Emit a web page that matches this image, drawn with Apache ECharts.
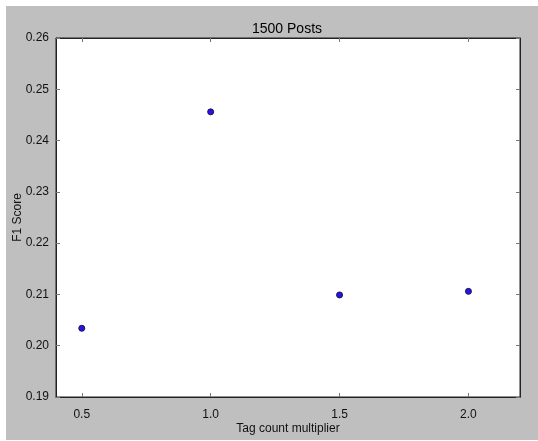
<!DOCTYPE html>
<html>
<head>
<meta charset="utf-8">
<script src="https://cdn.jsdelivr.net/npm/echarts@6/dist/echarts.min.js"></script>
<style>
  html, body { margin: 0; padding: 0; background: #fff; }
  #main { position: absolute; left: 6px; top: 6px; width: 532px; height: 434px; background: #bfbfbf; }
</style>
</head>
<body>
<div id="main"></div>
<script>
// data
var multipliers = [0.5, 1.0, 1.5, 2.0];
var f1Scores = [0.2034, 0.2456, 0.2099, 0.2106];
var xTicks = [0.5, 1.0, 1.5, 2.0];

var chart = echarts.init(document.getElementById('main'));

var axisFont = { color: '#111', fontSize: 12, fontFamily: 'Liberation Sans, Arial, sans-serif' };
var tick = { show: true, inside: true, length: 4, lineStyle: { color: '#777' } };

chart.setOption({
  backgroundColor: '#bfbfbf',
  animation: false,
  title: {
    text: '1500 Posts',
    left: 276, top: 11, textAlign: 'center',
    textStyle: { fontSize: 14, fontWeight: 'normal', color: '#000', fontFamily: 'Liberation Sans, Arial, sans-serif' }
  },
  grid: { left: 50, top: 32, right: 18, bottom: 43, backgroundColor: '#fff', show: true, borderColor: '#222', borderWidth: 1, outerBoundsMode: 'none', containLabel: false },
  xAxis: [{
    type: 'value', min: 0.4, max: 2.2,
    name: 'Tag count multiplier', nameLocation: 'middle', nameGap: 26, nameMoveOverlap: false,
    nameTextStyle: axisFont,
    axisLine: { show: true, lineStyle: { color: '#222' } },
    axisTick: Object.assign({ customValues: xTicks }, tick),
    axisLabel: Object.assign({ margin: 12, customValues: xTicks, formatter: function (v) { return v.toFixed(1); } }, axisFont),
    splitLine: { show: false }
  }, {
    type: 'value', position: 'top', min: 0.4, max: 2.2,
    axisLine: { show: true, lineStyle: { color: '#222' } },
    axisTick: Object.assign({ customValues: xTicks }, tick),
    axisLabel: { show: false }, splitLine: { show: false }
  }],
  yAxis: [{
    type: 'value', min: 0.19, max: 0.26, interval: 0.01,
    name: 'F1 Score', nameLocation: 'middle', nameGap: 32, nameMoveOverlap: false,
    nameTextStyle: axisFont,
    axisLine: { show: true, lineStyle: { color: '#222' } },
    axisTick: tick,
    axisLabel: Object.assign({ margin: 7, formatter: function (v) { return v.toFixed(2); } }, axisFont),
    splitLine: { show: false }
  }, {
    type: 'value', position: 'right', min: 0.19, max: 0.26, interval: 0.01,
    axisLine: { show: true, lineStyle: { color: '#222' } },
    axisTick: tick,
    axisLabel: { show: false }, splitLine: { show: false }
  }],
  series: [{
    type: 'scatter',
    symbolSize: 6,
    itemStyle: { color: '#2a10f0', borderColor: '#1a1a40', borderWidth: 1, opacity: 1 },
    data: multipliers.map(function (x, i) { return [x, f1Scores[i]]; })
  }]
});
</script>
</body>
</html>
